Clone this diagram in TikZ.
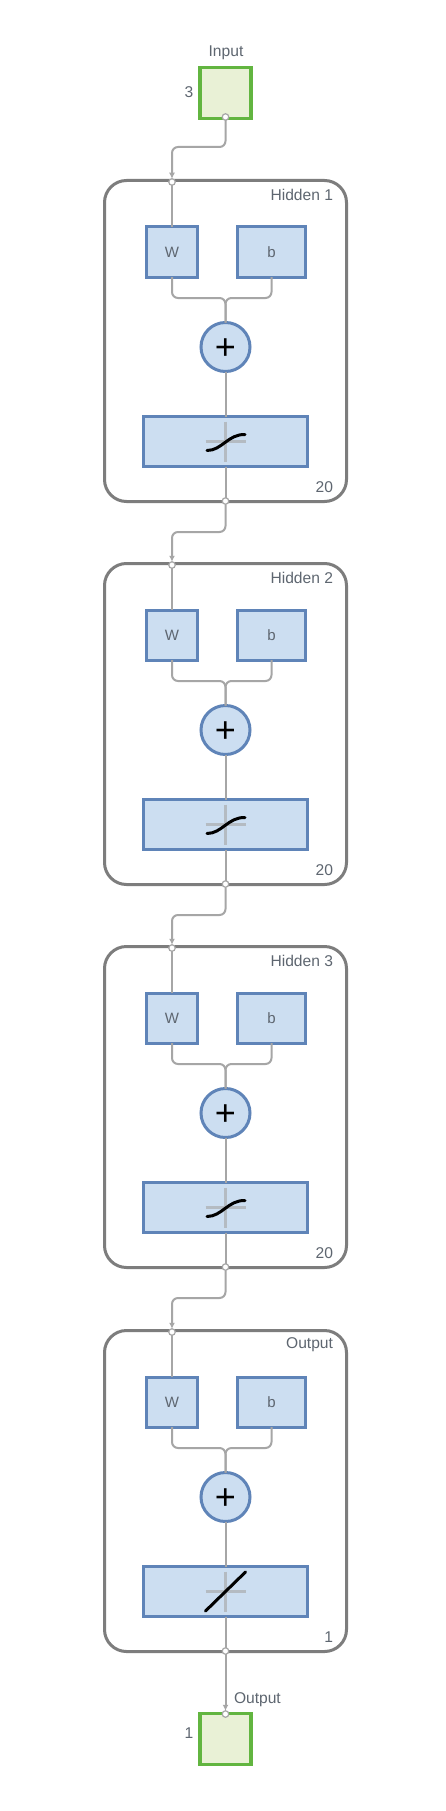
\documentclass[tikz,border=0pt]{standalone}
\usepackage{fontspec}
\setmainfont{Liberation Sans}
\usetikzlibrary{arrows.meta}
\definecolor{wirec}{HTML}{A6A6A6}
\definecolor{framec}{HTML}{7D7D7D}
\definecolor{bluef}{HTML}{CCDEF1}
\definecolor{blued}{HTML}{5F84B8}
\definecolor{greenf}{HTML}{E9F1D6}
\definecolor{greend}{HTML}{62B540}
\definecolor{labelc}{HTML}{5E6670}
\definecolor{axisc}{HTML}{B4BBC2}
\tikzset{
  x=1pt,y=-1pt,
  every node/.style={inner sep=0pt,outer sep=0pt},
  lbl/.style={font=\fontsize{15.6}{16}\selectfont,text=labelc},
  frame/.style={draw=framec,line width=3pt,rounded corners=22pt,fill=white,minimum width=242pt,minimum height=321pt},
  block/.style={draw=blued,line width=3pt,fill=bluef},
  ioblock/.style={draw=greend,line width=3.5pt,fill=greenf,minimum width=51pt,minimum height=51pt},
  sumnode/.style={circle,draw=blued,line width=3pt,fill=bluef,minimum size=49pt,font=\fontsize{36}{36}\selectfont,text=black,text height=24.4pt,text depth=0pt},
  port/.style={circle,draw=wirec,line width=1.2pt,fill=white,minimum size=6.5pt},
  wire/.style={draw=wirec,line width=2pt,rounded corners=6pt},
  tipwire/.style={wire,-{Latex[length=6pt,width=6pt]}},
  axis/.style={draw=axisc,line width=3pt},
  curve/.style={draw=black,line width=3pt,line cap=round},
}
\begin{document}
\begin{tikzpicture}
\useasboundingbox (0,0) rectangle (446,1811);
\fill[white] (0,0) rectangle (446,1811);
% input and output blocks
\node[ioblock] (inbox) at (225.5,93) {};
\node[lbl,anchor=center] (inlabel) at (226,53) {Input};
\node[lbl,anchor=center] (insize) at (189,92) {3};
\node[port] (out0) at (225.5,117) {};
\node[ioblock] (outbox) at (225.5,1739) {};
\node[lbl,anchor=west] (outlabel) at (234,1700) {Output};
\node[lbl,anchor=center] (outsize) at (189,1733) {1};
\node[port] (in5) at (225.5,1714) {};
% layers
\foreach \i/\off/\ttl/\siz in {1/0/Hidden 1/20,2/383/Hidden 2/20,3/766/Hidden 3/20,4/1150/Output/1}{
  \node[frame] (frame\i) at (225.5,341+\off) {};
  \node[lbl,anchor=east] (title\i) at (333,195+\off) {\ttl};
  \node[lbl,anchor=east] (size\i) at (333,487+\off) {\siz};
  \node[block,minimum width=51pt,minimum height=50pt] (w\i) at (172,252+\off) {\textcolor{labelc}{\fontsize{15}{15}\selectfont W}};
  \node[block,minimum width=68pt,minimum height=50pt] (b\i) at (271.5,252+\off) {\textcolor{labelc}{\fontsize{15}{15}\selectfont b}};
  \node[sumnode] (sum\i) at (225.5,347+\off) {+};
  \node[block,minimum width=164pt,minimum height=50pt] (tf\i) at (225.5,441.5+\off) {};
  \coordinate (merge\i) at (225.5,298+\off);
  \node[port] (in\i) at (172,182+\off) {};
  \node[port] (out\i) at (225.5,501+\off) {};
  \draw[wire] (w\i.south) |- (merge\i) -- (sum\i.north);
  \draw[wire] (b\i.south) |- (merge\i) -- (sum\i.north);
  \draw[wire] (sum\i.south) -- (tf\i.north);
  \draw[wire] (tf\i.south) -- (out\i.north);
  \draw[wire] (in\i.south) -- (w\i.north);
  \draw[axis] (205.5,441.5+\off) -- (245.5,441.5+\off);
  \draw[axis] (225.5,421.5+\off) -- (225.5,461.5+\off);
}
% transfer function glyphs
\foreach \i/\off in {1/0,2/383,3/766}{
  \draw[curve] (207,450.5+\off) .. controls (222,450.5+\off) and (228,434+\off) .. (245,434.5+\off);
}
\draw[curve] (205.5,1611) -- (245.5,1572);
% connectors between layers
\foreach \a/\b/\bend in {0/1/147,1/2/532,2/3/915,3/4/1298}{
  \coordinate (mid\a) at (198,\bend);
  \draw[tipwire] (out\a.south) |- (mid\a) -| (in\b.north);
}
\draw[tipwire] (out4.south) -- (in5.north);
\end{tikzpicture}
\end{document}
